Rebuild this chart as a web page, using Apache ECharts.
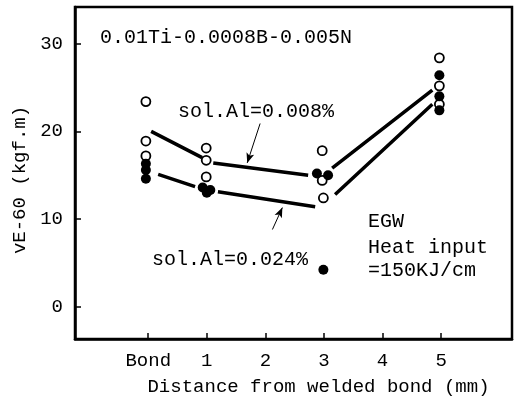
<!DOCTYPE html>
<html>
<head>
<meta charset="utf-8">
<script src="https://cdn.jsdelivr.net/npm/echarts@6/dist/echarts.min.js"></script>
<style>
html,body{margin:0;padding:0;background:#fff;}
#chart{width:517px;height:401px;}
</style>
</head>
<body>
<div id="chart"></div>
<script>
// x positions: 0 = "Bond", 1..5 = distance in mm
var xTickValues = [0, 1, 2, 3, 4, 5];
var xTickLabels = ['Bond', '1', '2', '3', '4', '5'];
var yTickValues = [0, 10, 20, 30];

// sol.Al = 0.008% (open circles)
var openPoints = [
  [-0.04, 23.4], [-0.04, 18.9], [-0.04, 17.2],
  [0.99, 18.1], [0.99, 16.7], [0.99, 14.8],
  [2.97, 17.8], [2.97, 14.4], [2.99, 12.4],
  [4.97, 28.4], [4.97, 25.2], [4.97, 23.1]
];
// sol.Al = 0.024% (filled circles)
var filledPoints = [
  [-0.04, 16.3], [-0.04, 15.6], [-0.04, 14.6],
  [0.93, 13.6], [1.0, 13.0], [1.06, 13.3],
  [2.88, 15.2], [3.07, 15.0], [2.99, 4.2],
  [4.97, 26.4], [4.97, 24.0], [4.97, 22.4]
];
// trend lines (drawn with gaps near the data clusters)
var lineHigh = [[0.05, 20.0], [0.92, 17.0], '-', [1.11, 16.4], [2.73, 15.0], '-', [3.14, 15.8], [4.85, 24.7]];
var lineLow = [[0.17, 15.1], [0.80, 13.7], '-', [1.19, 13.1], [2.85, 11.4], '-', [3.19, 12.8], [4.85, 23.1]];
// arrows [from, to]
var arrowHigh = [[1.91, 20.9], [1.69, 16.4]];
var arrowLow = [[2.12, 8.8], [2.29, 11.3]];

var FONT = '"Liberation Mono", monospace';
var chart = echarts.init(document.getElementById('chart'));

function arrowLine(a) {
  return [[{coord: a[0], symbol: 'none'}, {coord: a[1], symbol: 'arrow', symbolSize: [6, 10]}]];
}

chart.setOption({
  backgroundColor: '#fff',
  animation: false,
  grid: {left: 75, top: 7, right: 5, bottom: 53, show: true, borderColor: '#000', borderWidth: 2.5, containLabel: false},
  xAxis: {
    type: 'value', min: -1.25, max: 6.21,
    name: 'Distance from welded bond (mm)', nameLocation: 'middle', nameGap: 38,
    nameTextStyle: {fontFamily: FONT, fontSize: 19, color: '#000', padding: [0, 0, 0, 50]},
    splitLine: {show: false},
    axisLine: {show: true, onZero: false, lineStyle: {color: '#000', width: 2.5}},
    axisTick: {show: true, inside: true, length: 6, lineStyle: {color: '#000', width: 1.5}, customValues: xTickValues},
    axisLabel: {
      color: '#000', fontFamily: FONT, fontSize: 19, margin: 12,
      customValues: xTickValues,
      formatter: function (v) { var i = xTickValues.indexOf(Math.round(v)); return i >= 0 ? xTickLabels[i] : ''; }
    }
  },
  yAxis: {
    type: 'value', min: -3.7, max: 34.2,
    name: 'vE-60 (kgf.m)', nameLocation: 'middle', nameGap: 42, nameRotate: 90,
    nameTextStyle: {fontFamily: FONT, fontSize: 19, color: '#000', padding: [0, 14, 0, 0]},
    splitLine: {show: false},
    axisLine: {show: true, onZero: false, lineStyle: {color: '#000', width: 2.5}},
    axisTick: {show: true, inside: true, length: 6, lineStyle: {color: '#000', width: 1.5}, customValues: yTickValues},
    axisLabel: {color: '#000', fontFamily: FONT, fontSize: 19, margin: 12, customValues: yTickValues}
  },
  graphic: [
    {type: 'text', left: 100, top: 28, style: {text: '0.01Ti-0.0008B-0.005N', font: '20px "Liberation Mono"', fill: '#000'}},
    {type: 'text', left: 178, top: 102, style: {text: 'sol.Al=0.008%', font: '20px "Liberation Mono"', fill: '#000'}},
    {type: 'text', left: 152, top: 250, style: {text: 'sol.Al=0.024%', font: '20px "Liberation Mono"', fill: '#000'}},
    {type: 'text', left: 368, top: 212, style: {text: 'EGW', font: '20px "Liberation Mono"', fill: '#000'}},
    {type: 'text', left: 368, top: 238, style: {text: 'Heat input', font: '20px "Liberation Mono"', fill: '#000'}},
    {type: 'text', left: 368, top: 261, style: {text: '=150KJ/cm', font: '20px "Liberation Mono"', fill: '#000'}}
  ],
  series: [
    {type: 'line', data: lineHigh, showSymbol: false, symbol: 'none', connectNulls: false,
     lineStyle: {color: '#000', width: 3.5}, z: 2,
     markLine: {silent: true, lineStyle: {color: '#000', width: 1, type: 'solid'}, label: {show: false}, data: arrowLine(arrowHigh)}},
    {type: 'line', data: lineLow, showSymbol: false, symbol: 'none', connectNulls: false,
     lineStyle: {color: '#000', width: 3.5}, z: 2,
     markLine: {silent: true, lineStyle: {color: '#000', width: 1, type: 'solid'}, label: {show: false}, data: arrowLine(arrowLow)}},
    {type: 'scatter', data: openPoints, symbol: 'circle', symbolSize: 9,
     itemStyle: {color: '#fff', borderColor: '#000', borderWidth: 1.8, opacity: 1}, z: 3},
    {type: 'scatter', data: filledPoints, symbol: 'circle', symbolSize: 10,
     itemStyle: {color: '#000', borderColor: '#000', borderWidth: 0, opacity: 1}, z: 4}
  ]
});
</script>
</body>
</html>
